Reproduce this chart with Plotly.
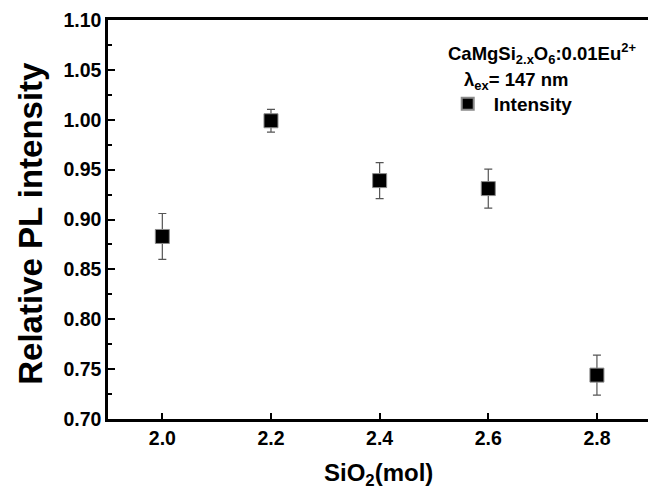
import plotly.graph_objects as go

# Data
sio2_mol = [2.0, 2.2, 2.4, 2.6, 2.8]
intensity = [0.883, 0.999, 0.939, 0.931, 0.744]
error = [0.023, 0.0115, 0.018, 0.0195, 0.020]
x_ticks = [2.0, 2.2, 2.4, 2.6, 2.8]
y_ticks = [0.70, 0.75, 0.80, 0.85, 0.90, 0.95, 1.00, 1.05, 1.10]

FONT = "Liberation Sans, Arial, sans-serif"

fig = go.Figure()
fig.add_trace(go.Scatter(
    x=sio2_mol, y=intensity, mode="markers", name="<b>Intensity</b>",
    marker=dict(symbol="square", size=14, color="black",
                line=dict(color="#8a8a8a", width=1)),
    error_y=dict(type="data", array=error, visible=True,
                 color="#555555", thickness=1.2, width=4),
))

fig.update_layout(
    width=648, height=490,
    margin=dict(l=108, r=0, t=20, b=71),
    paper_bgcolor="white", plot_bgcolor="white",
    font=dict(family=FONT, color="black"),
    showlegend=True,
    legend=dict(x=0.618, y=0.79, xanchor="left", yanchor="middle",
                font=dict(size=19, family=FONT), bgcolor="rgba(0,0,0,0)",
                itemwidth=42, itemsizing="constant"),
    annotations=[
        dict(x=0.804, y=0.917, xref="paper", yref="paper", xanchor="center", yanchor="middle",
             text="<b>CaMgSi<sub>2.x</sub>O<sub>6</sub>:0.01Eu<sup>2+</sup></b>",
             showarrow=False, font=dict(size=18.5, family=FONT)),
        dict(x=0.656, y=0.848, xref="paper", yref="paper", xanchor="left", yanchor="middle",
             text="<b>λ<sub>ex</sub>= 147 nm</b>",
             showarrow=False, font=dict(size=18.5, family=FONT)),
        # axis titles
        dict(x=0.5, y=-0.139, xref="paper", yref="paper", xanchor="center", yanchor="middle",
             text="<b>SiO<sub>2</sub>(mol)</b>", showarrow=False,
             font=dict(size=24, family=FONT)),
        dict(x=-0.144, y=0.49, xref="paper", yref="paper", xanchor="center", yanchor="middle",
             text="<b>Relative PL intensity</b>", showarrow=False, textangle=-90,
             font=dict(size=33, family=FONT)),
    ],
)

fig.update_xaxes(
    range=[1.9, 2.894], tickmode="array", tickvals=x_ticks,
    ticktext=["<b>%.1f</b>" % t for t in x_ticks],
    ticks="inside", ticklen=6, tickwidth=2, tickcolor="black",
    showline=True, linewidth=2.5, linecolor="black", mirror=True,
    showgrid=False, zeroline=False, automargin=False,
    tickfont=dict(size=19.5, family=FONT),
)
fig.update_yaxes(
    range=[0.70, 1.10], tickmode="array", tickvals=y_ticks,
    ticktext=["<b>%.2f</b>" % v for v in y_ticks],
    ticks="inside", ticklen=7, tickwidth=2, tickcolor="black",
    minor=dict(dtick=0.025, tick0=0.70, ticks="inside", ticklen=4, tickwidth=1.5, tickcolor="black"),
    showline=True, linewidth=2.5, linecolor="black", mirror=False,
    showgrid=False, zeroline=False, automargin=False,
    tickfont=dict(size=19.5, family=FONT),
)

fig.write_html("out.html")
